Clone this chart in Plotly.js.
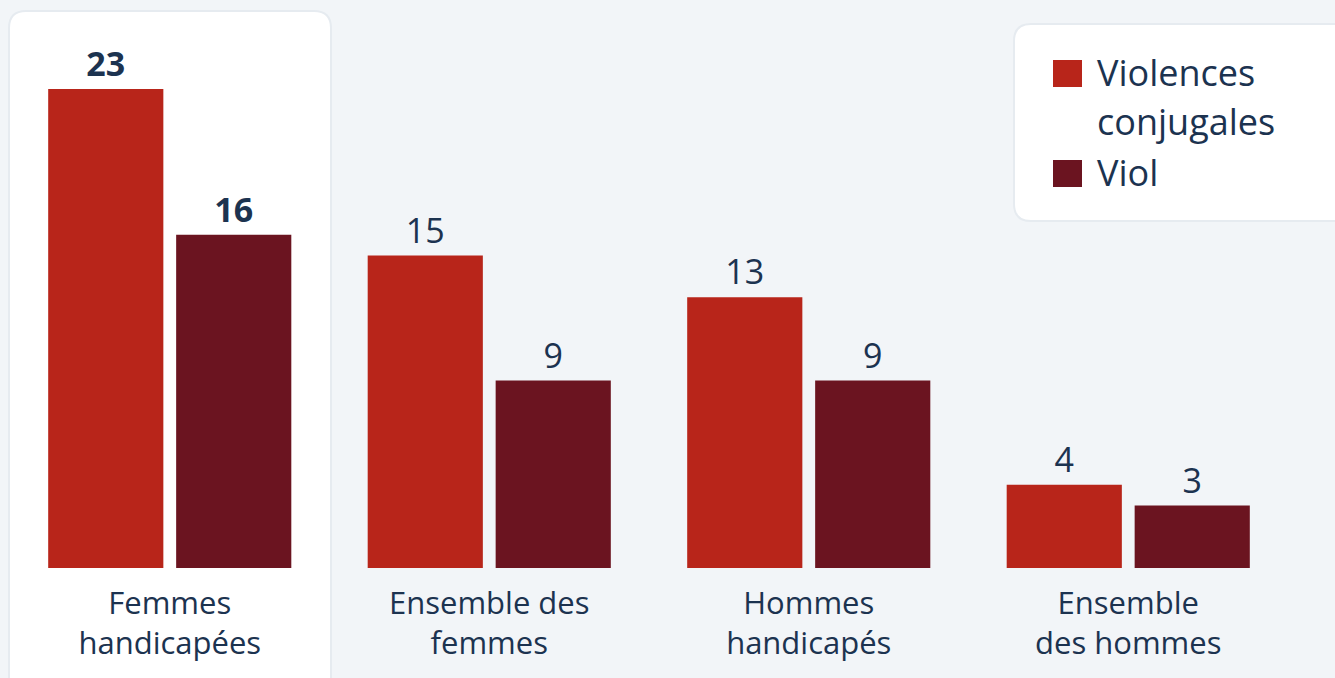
<!DOCTYPE html>
<html>
<head>
<meta charset="utf-8">
<script src="https://cdn.plot.ly/plotly-3.0.1.min.js"></script>
<style>
  html, body { margin: 0; padding: 0; background: #f2f5f8; }
  #chart { width: 1335px; height: 678px; }
</style>
</head>
<body>
<div id="chart"></div>
<script>
// ---- data ----
const categories = ['Femmes<br>handicapées', 'Ensemble des<br>femmes', 'Hommes<br>handicapés', 'Ensemble<br>des hommes'];
const violencesConjugales = [23, 15, 13, 4];
const viol = [16, 9, 9, 3];
const seriesNames = ['Violences conjugales', 'Viol'];
const legendLines = [['Violences', 'conjugales'], ['Viol']];
const highlightIndex = 0;

// ---- style ----
const W = 1335, H = 678;
const M = {l: 10, r: 47, t: 20, b: 110};
const PW = W - M.l - M.r, PH = H - M.t - M.b;
const colors = ['#b8251a', '#6b1420'];
const textColor = '#1c3350';
const font = '"Open Sans", "Noto Sans", sans-serif';
const px = x => (x - M.l) / PW;
const py = y => (H - M.b - y) / PH;

function labels(vals) {
  return vals.map((v, i) => i === highlightIndex ? '<b>' + v + '</b>' : String(v));
}

const traces = [violencesConjugales, viol].map((vals, k) => ({
  type: 'bar',
  name: seriesNames[k],
  x: categories,
  y: vals,
  marker: {color: colors[k], line: {width: 0}},
  text: labels(vals),
  textposition: 'outside',
  textfont: {family: font, size: 34, color: textColor},
  cliponaxis: false,
  hoverinfo: 'x+y+name',
  showlegend: false
}));

function roundRect(x0, y0, x1, y1, r) {
  const rx = r / PW, ry = r / PH;
  const X0 = px(x0), X1 = px(x1), Y0 = py(y1), Y1 = py(y0);
  return `M${X0},${Y0} L${X0},${Y1 - ry} Q${X0},${Y1} ${X0 + rx},${Y1} L${X1 - rx},${Y1} Q${X1},${Y1} ${X1},${Y1 - ry} L${X1},${Y0 + ry} Q${X1},${Y0} ${X1 - rx},${Y0} L${X0 + rx},${Y0} Q${X0},${Y0} ${X0},${Y0 + ry} Z`;
}

const shapes = [
  {type: 'path', xref: 'paper', yref: 'paper', layer: 'below',
   path: roundRect(8, 10, 332, 720, 18), fillcolor: '#e6ebf0', line: {width: 0}},
  {type: 'path', xref: 'paper', yref: 'paper', layer: 'below',
   path: roundRect(10, 12, 330, 720, 16), fillcolor: '#ffffff', line: {width: 0}},
  {type: 'path', xref: 'paper', yref: 'paper', layer: 'below',
   path: roundRect(1013, 23, 1360, 222, 18), fillcolor: '#e6ebf0', line: {width: 0}},
  {type: 'path', xref: 'paper', yref: 'paper', layer: 'below',
   path: roundRect(1015, 25, 1360, 220, 16), fillcolor: '#ffffff', line: {width: 0}},
  {type: 'rect', xref: 'paper', yref: 'paper', x0: px(1053), x1: px(1082), y0: py(87), y1: py(60),
   fillcolor: colors[0], line: {width: 0}},
  {type: 'rect', xref: 'paper', yref: 'paper', x0: px(1053), x1: px(1082), y0: py(187), y1: py(160),
   fillcolor: colors[1], line: {width: 0}}
];

// legend text: line spacing from base size 38 (≈49px), glyphs 36px
const legendTops = [46, 146];
const annotations = legendLines.map((lines, k) => ({
  xref: 'paper', yref: 'paper', x: px(1095), y: py(legendTops[k]),
  xanchor: 'left', yanchor: 'top', showarrow: false, align: 'left',
  text: lines.map(t => '<span style="font-size:36px">' + t + '</span>').join('<br>'),
  font: {family: font, size: 38, color: textColor}
}));

const layout = {
  width: W, height: H,
  margin: M,
  paper_bgcolor: '#f2f5f8',
  plot_bgcolor: 'rgba(0,0,0,0)',
  barmode: 'group',
  bargap: 0.199,
  bargroupgap: 0.1,
  showlegend: false,
  xaxis: {
    type: 'category', range: [-0.5, 3.5], fixedrange: true,
    showgrid: false, zeroline: false, showline: false, ticks: '',
    ticklabelstandoff: 14,
    tickfont: {family: font, size: 31, color: textColor}
  },
  yaxis: {
    range: [0, PH / (479 / 23)], visible: false, fixedrange: true,
    showgrid: false, zeroline: false
  },
  shapes: shapes,
  annotations: annotations
};

Plotly.newPlot('chart', traces, layout, {displayModeBar: false, staticPlot: true});
</script>
</body>
</html>
